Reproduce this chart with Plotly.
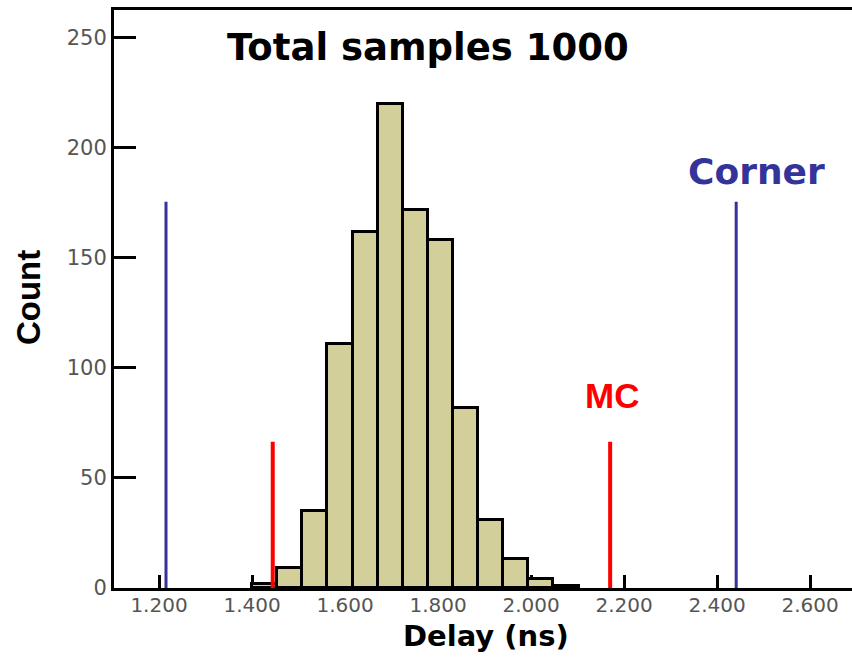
import plotly.graph_objects as go

# ---- data ----
bin_starts = [1.400, 1.454, 1.508, 1.562, 1.616, 1.670, 1.724, 1.778,
              1.832, 1.886, 1.940, 1.994, 2.048]
bin_width = 0.054
counts = [2, 9, 35, 111, 162, 220, 172, 158, 82, 31, 13, 4, 1]

corner_x = [1.215, 2.441]
corner_top = 175.5
mc_x = [1.4445, 2.170]
mc_top = 66.5

x_tick_vals = [1.2, 1.4, 1.6, 1.8, 2.0, 2.2, 2.4, 2.6]
x_tick_text = ["1.200", "1.400", "1.600", "1.800", "2.000", "2.200", "2.400", "2.600"]
y_tick_vals = [0, 50, 100, 150, 200, 250]

x_range = [1.1032, 2.690]
y_range = [0, 262.7]

BAR_COLOR = "#D3CF9B"
BLUE = "#333399"
RED = "#FF0000"
TICK_GRAY = "#555555"

centers = [s + bin_width / 2 for s in bin_starts]

fig = go.Figure()
fig.add_trace(go.Bar(
    x=centers, y=counts, width=[bin_width] * len(counts),
    marker=dict(color=BAR_COLOR, line=dict(color="black", width=3)),
    hoverinfo="x+y",
))

for xv in corner_x:
    fig.add_trace(go.Scatter(x=[xv, xv], y=[0, corner_top], mode="lines",
                             line=dict(color=BLUE, width=3), hoverinfo="skip"))
for xv in mc_x:
    fig.add_trace(go.Scatter(x=[xv, xv], y=[0, mc_top], mode="lines",
                             line=dict(color=RED, width=4), hoverinfo="skip"))

annotations = [
    dict(text="<b>Total samples 1000</b>", x=1.7785, y=245.5, xref="x", yref="y",
         showarrow=False, xanchor="center", yanchor="middle",
         font=dict(family="DejaVu Sans", size=37, color="black")),
    dict(text="<b>Corner</b>", x=2.484, y=189.5, xref="x", yref="y",
         showarrow=False, xanchor="center", yanchor="middle",
         font=dict(family="DejaVu Sans", size=36, color=BLUE)),
    dict(text="<b>MC</b>", x=2.174, y=87.3, xref="x", yref="y",
         showarrow=False, xanchor="center", yanchor="middle",
         font=dict(family="Liberation Sans", size=35, color=RED)),
    dict(text="<b>Count</b>", x=-0.1164, y=0.5017, xref="paper", yref="paper",
         showarrow=False, xanchor="center", yanchor="middle", textangle=-90,
         font=dict(family="Liberation Sans Narrow, Liberation Sans", size=33, color="black")),
    dict(text="<b>Delay (ns)</b>", x=0.5047, y=-0.1159, xref="paper", yref="paper",
         showarrow=False, xanchor="center", yanchor="bottom",
         font=dict(family="DejaVu Sans", size=29, color="black")),
]

fig.update_layout(
    width=852, height=657,
    margin=dict(l=114, r=0, t=10, b=69),
    paper_bgcolor="white", plot_bgcolor="white",
    showlegend=False,
    bargap=0,
    annotations=annotations,
    xaxis=dict(
        range=x_range, tickvals=x_tick_vals, ticktext=x_tick_text,
        ticks="inside", ticklen=13, tickwidth=3, tickcolor="black",
        showline=True, linecolor="black", linewidth=3, mirror=True,
        showgrid=False, zeroline=False, layer="below traces",
        ticklabelstandoff=-3,
        tickfont=dict(family="DejaVu Sans", size=20, color=TICK_GRAY),
    ),
    yaxis=dict(
        range=y_range, tickvals=y_tick_vals,
        ticks="inside", ticklen=22, tickwidth=3, tickcolor="black",
        showline=True, linecolor="black", linewidth=3,
        showgrid=False, zeroline=False, layer="below traces",
        tickfont=dict(family="DejaVu Sans", size=21, color=TICK_GRAY),
    ),
)

fig.write_html("out.html")
